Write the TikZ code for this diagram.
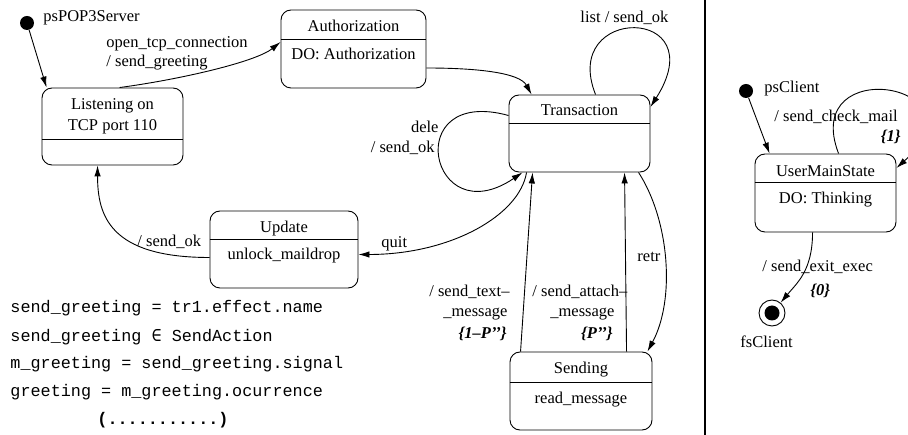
\documentclass[tikz,border=0pt]{standalone}
\usepackage{fontspec}
\setmainfont{Liberation Serif}
\setmonofont{Liberation Mono}
\newfontfamily\opfont{DejaVu Sans Mono}
\usetikzlibrary{arrows.meta,calc}

\begin{document}
\begin{tikzpicture}[x=1pt,y=-1pt,line width=0.9pt,
  statebox/.style={draw,rounded corners=10pt,inner sep=0pt},
  lbl/.style={font=\fontsize{16.5}{18}\selectfont,inner sep=0pt},
  prob/.style={font=\bfseries\itshape\fontsize{16.5}{18}\selectfont,inner sep=0pt},
  code/.style={font=\ttfamily\fontsize{16.8}{18}\selectfont,inner sep=0pt,anchor=base west},
  arr/.style={-{Latex[length=11pt,width=6.5pt]}},
  initdot/.style={circle,fill,inner sep=0pt,minimum size=14pt},
  finring/.style={circle,draw,inner sep=0pt,minimum size=26pt}]

\useasboundingbox (0,0) rectangle (908,435);
\clip (0,0) rectangle (908,435);

% ---------- server machine: states ----------
\node[statebox,minimum width=141pt,minimum height=77pt] (listen) at (112.5,126.5) {};
\draw (listen.west |- 0,139) -- (listen.east |- 0,139);
\node[lbl,anchor=base] at (112.5,110) {Listening on};
\node[lbl,anchor=base] at (112.5,131) {TCP port 110};

\node[statebox,minimum width=145pt,minimum height=78pt] (auth) at (353.5,49) {};
\draw (auth.west |- 0,39) -- (auth.east |- 0,39);
\node[lbl,anchor=base] at (353.5,32) {Authorization};
\node[lbl,anchor=base] at (353.5,60) {DO: Authorization};

\node[statebox,minimum width=141pt,minimum height=77pt] (trans) at (579.5,133.5) {};
\draw (trans.west |- 0,123) -- (trans.east |- 0,123);
\node[lbl,anchor=base] at (579.5,116) {Transaction};

\node[statebox,minimum width=148pt,minimum height=77pt] (update) at (284,249.5) {};
\draw (update.west |- 0,239) -- (update.east |- 0,239);
\node[lbl,anchor=base] at (284,233) {Update};
\node[lbl,anchor=base] at (284,260) {unlock\_maildrop};

\node[statebox,minimum width=142pt,minimum height=78pt] (send) at (581,391) {};
\draw (send.west |- 0,382) -- (send.east |- 0,382);
\node[lbl,anchor=base] at (581,374) {Sending};
\node[lbl,anchor=base] at (581,404) {read\_message};

\node[initdot] (ini1) at (27,23) {};
\node[lbl,anchor=base west] at (43,22) {psPOP3Server};

% ---------- server machine: transitions ----------
\draw[arr] (ini1) -- ($(listen.north west)+(5,0)$);

\draw[arr] ($(listen.north west)+(78,0)$) .. controls +(60,-8) and +(-25,20) .. ($(auth.west)+(0,-7)$);
\node[lbl,anchor=base west] at (106,48) {open\_tcp\_connection};
\node[lbl,anchor=base west] at (106,67) {/ send\_greeting};

\draw[arr] ($(auth.east)+(0,19)$) .. controls +(50,0) and +(-12,-22) .. ($(trans.north west)+(23,0)$);

\draw[arr] ($(trans.north west)+(87,0)$) .. controls +(-36,-90) and +(65,-102) .. ($(trans.east)+(0,-26.5)$);
\node[lbl,anchor=base west] at (580,23) {list / send\_ok};

\draw[arr] ($(trans.west)+(0,-18)$) .. controls +(-109,-30) and +(-93,63) .. ($(trans.south west)+(14,0)$);
\node[lbl,anchor=base east] at (439,133) {dele};
\node[lbl,anchor=base east] at (435,153) {/ send\_ok};

\draw[arr] ($(trans.south west)+(18,0)$) .. controls +(-7,43) and +(92,0) .. ($(update.east)+(0,5)$);
\node[lbl,anchor=base west] at (381,248) {quit};

\draw[arr] ($(update.west)+(0,8)$) .. controls +(-100,0) and +(0,50) .. ($(listen.south west)+(56,0)$);
\node[lbl,anchor=base west] at (137,247) {/ send\_ok};

\draw[arr] ($(send.north west)+(11,0)$) -- ($(trans.south west)+(24,0)$);
\node[lbl,anchor=base east] at (510,297) {/ send\_text–};
\node[lbl,anchor=base east] at (508,317) {\_message};
\node[prob,anchor=base east] at (507,339) {\{1–P’’\}};

\draw[arr] ($(send.north west)+(117,0)$) -- ($(trans.south west)+(116,0)$);
\node[lbl,anchor=base west] at (532,297) {/ send\_attach–};
\node[lbl,anchor=base east] at (615,317) {\_message};
\node[prob,anchor=base east] at (613,339) {\{P’’\}};

\draw[arr] ($(trans.south west)+(130,0)$) .. controls +(31,48) and +(28,-52) .. ($(send.north east)+(-5,0)$);
\node[lbl,anchor=base west] at (637,262) {retr};

% ---------- guard expressions ----------
\node[code] at (10,313) {send\_greeting = tr1.effect.name};
\node[code] at (10,342) {send\_greeting {\opfont ∈} SendAction};
\node[code] at (10,369) {m\_greeting = send\_greeting.signal};
\node[code] at (10,397) {greeting = m\_greeting.ocurrence};
\node[code,font=\ttfamily\bfseries\fontsize{16.8}{18}\selectfont] at (97,425) {(...........)};

% ---------- divider ----------
\draw[line width=1.6pt] (705,0) -- (705,435);

% ---------- client machine ----------
\node[initdot] (ini2) at (746,91) {};
\node[lbl,anchor=base west] at (764,93) {psClient};

\node[statebox,minimum width=141pt,minimum height=78pt] (user) at (825.5,193) {};
\draw (user.west |- 0,182) -- (user.east |- 0,182);
\node[lbl,anchor=base] at (825.5,177) {UserMainState};
\node[lbl,anchor=base] at (825.5,204) {DO: Thinking};

\node[finring] (fin) at (772,313) {};
\fill (fin.center) circle (7.5pt);
\node[lbl,anchor=base west] at (740,348) {fsClient};

\draw[arr] (ini2) -- ($(user.north west)+(15,0)$);

\draw[arr] ($(user.north west)+(84,0)$) .. controls +(-39,-102) and +(94,-84) .. ($(user.east)+(0,-25)$);
\node[lbl,anchor=base west] at (774,122) {/ send\_check\_mail};
\node[prob,anchor=base east] at (901,142) {\{1\}};

\draw[arr] ($(user.south west)+(58,0)$) .. controls +(0,38) and +(25,-30) .. (fin);
\node[lbl,anchor=base west] at (762,272) {/ send\_exit\_exec};
\node[prob,anchor=base west] at (810,296) {\{0\}};

\end{tikzpicture}
\end{document}
